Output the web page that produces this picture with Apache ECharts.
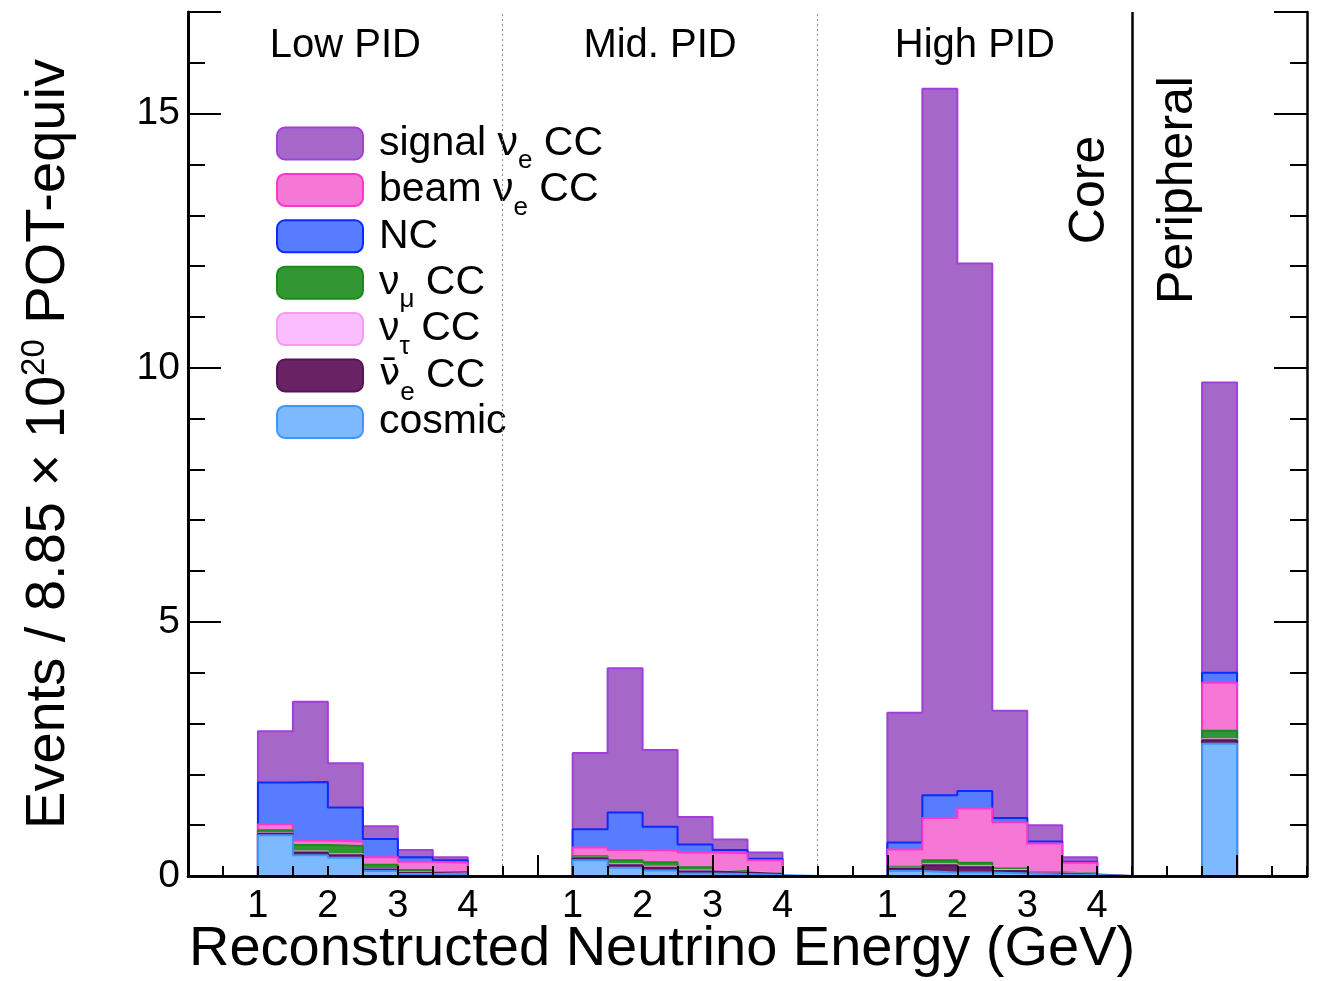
<!DOCTYPE html>
<html>
<head>
<meta charset="utf-8">
<script src="https://cdn.jsdelivr.net/npm/echarts@6/dist/echarts.min.js"></script>
<style>
  html, body { margin: 0; padding: 0; background: #ffffff; }
  #chart { width: 1319px; height: 981px; }
</style>
</head>
<body>
<div id="chart"></div>
<script>
// Reconstructed-energy bins are 0.5 GeV wide. Each PID panel spans 0–4.5 GeV (9 bins)
// and is filled from 1 to 4 GeV; the peripheral sample is a single bin in a 5-bin panel.

// Events per bin (1–1.5, 1.5–2, 2–2.5, 2.5–3, 3–3.5, 3.5–4 GeV), by component
const cosmicLow   = [0.80, 0.41, 0.36, 0.10, 0.04, 0.04];
const cosmicMid   = [0.31, 0.16, 0.11, 0.05, 0.04, 0.02];
const cosmicHigh  = [0.10, 0.07, 0.07, 0.05, 0.03, 0.02];
const cosmicPeri  = [2.60];

const nuebarLow   = [0.03, 0.05, 0.05, 0.03, 0.02, 0.01];
const nuebarMid   = [0.04, 0.05, 0.05, 0.04, 0.03, 0.02];
const nuebarHigh  = [0.05, 0.14, 0.10, 0.05, 0.02, 0.01];
const nuebarPeri  = [0.07];

const nutauLow    = [0.01, 0.02, 0.02, 0.01, 0.01, 0.01];
const nutauMid    = [0.01, 0.02, 0.02, 0.02, 0.01, 0.01];
const nutauHigh   = [0.01, 0.02, 0.02, 0.02, 0.01, 0.01];
const nutauPeri   = [0.02];

const numuLow     = [0.06, 0.13, 0.16, 0.08, 0.05, 0.02];
const numuMid     = [0.03, 0.08, 0.09, 0.06, 0.02, 0.01];
const numuHigh    = [0.02, 0.08, 0.07, 0.03, 0.01, 0.01];
const numuPeri    = [0.17];

const beamLow     = [0.12, 0.09, 0.09, 0.15, 0.16, 0.18];
const beamMid     = [0.17, 0.20, 0.23, 0.29, 0.35, 0.25];
const beamHigh    = [0.34, 0.83, 1.07, 0.91, 0.57, 0.21];
const beamPeri    = [0.94];

const ncLow       = [0.82, 1.15, 0.67, 0.36, 0.09, 0.05];
const ncMid       = [0.36, 0.74, 0.47, 0.16, 0.06, 0.03];
const ncHigh      = [0.14, 0.45, 0.34, 0.08, 0.04, 0.02];
const ncPeri      = [0.20];

const signalLow   = [1.01, 1.58, 0.87, 0.25, 0.14, 0.06];
const signalMid   = [1.50, 2.84, 1.51, 0.54, 0.21, 0.12];
const signalHigh  = [2.55, 13.90, 10.38, 2.11, 0.32, 0.09];
const signalPeri  = [5.71];

// Tick labels at the bin edges (GeV), one entry per edge
const edgeLabels = [
  '', '', '1', '', '2', '', '3', '', '4',
  '', '', '1', '', '2', '', '3', '', '4',
  '', '', '1', '', '2', '', '3', '', '4',
  '', '', '', '', '', ''
];

const panelTitles = ['Low PID', 'Mid. PID', 'High PID'];

const PANEL_BINS = 9;
const PERI_BINS = 5;
const FIRST_FILLED = 2;
const TOTAL_BINS = 3 * PANEL_BINS + PERI_BINS;

// Spread a component's panel arrays onto the full bin row (plus a closing edge).
function layoutBins(low, mid, high, peri) {
  const out = new Array(TOTAL_BINS + 1).fill(0);
  [low, mid, high].forEach(function (arr, p) {
    arr.forEach(function (v, i) { out[p * PANEL_BINS + FIRST_FILLED + i] = v; });
  });
  peri.forEach(function (v, i) { out[3 * PANEL_BINS + FIRST_FILLED + i] = v; });
  return out;
}

const edges = [];
for (let i = 0; i <= TOTAL_BINS; i++) edges.push(String(i));

// Stack order bottom → top
const components = [
  { name: 'cosmic',        fill: '#7db9ff', line: '#3f95ff', data: layoutBins(cosmicLow, cosmicMid, cosmicHigh, cosmicPeri) },
  { name: 'ν̄e CC',        fill: '#692364', line: '#57135a', data: layoutBins(nuebarLow, nuebarMid, nuebarHigh, nuebarPeri) },
  { name: 'ντ CC',         fill: '#fabeff', line: '#f59bf5', data: layoutBins(nutauLow, nutauMid, nutauHigh, nutauPeri) },
  { name: 'νμ CC',         fill: '#329632', line: '#1c8a1c', data: layoutBins(numuLow, numuMid, numuHigh, numuPeri) },
  { name: 'beam νe CC',    fill: '#f578d7', line: '#ff36cc', data: layoutBins(beamLow, beamMid, beamHigh, beamPeri) },
  { name: 'NC',            fill: '#587cff', line: '#0a2aff', data: layoutBins(ncLow, ncMid, ncHigh, ncPeri) },
  { name: 'signal νe CC',  fill: '#a668c8', line: '#a040d8', data: layoutBins(signalLow, signalMid, signalHigh, signalPeri) }
];

const legendOrder = ['signal νe CC', 'beam νe CC', 'NC', 'νμ CC', 'ντ CC', 'ν̄e CC', 'cosmic'];
// Every row carries a subscript-sized token so all rows share one height
const legendRich = {
  'signal νe CC': '{m|signal ν}{s|e}{m| CC}',
  'beam νe CC':   '{m|beam ν}{s|e}{m| CC}',
  'NC':           '{m|NC}{s| }',
  'νμ CC':        '{m|ν}{s|μ}{m| CC}',
  'ντ CC':        '{m|ν}{s|τ}{m| CC}',
  'ν̄e CC':       '{b|ν̄}{s|e}{m| CC}',
  'cosmic':       '{m|cosmic}{s| }'
};

const FONT = '"Liberation Sans", Arial, Helvetica, sans-serif';
const GRID = { left: 188, right: 12, top: 12, bottom: 105 };
const chartW = 1319, chartH = 981;
const binPx = (chartW - GRID.left - GRID.right) / TOTAL_BINS;

const series = components.map(function (c, k) {
  const s = {
    name: c.name,
    type: 'line',
    stack: 'events',
    step: 'end',
    symbol: 'none',
    silent: true,
    z: 10 - k,
    data: c.data,
    lineStyle: { color: c.line, width: 2 },
    itemStyle: { color: c.fill, borderColor: c.line },
    areaStyle: { color: c.fill, opacity: 1 }
  };
  if (k === 0) {
    s.markLine = {
      silent: true,
      symbol: 'none',
      label: { show: false },
      lineStyle: { color: '#8a8a8a', type: [2, 3], width: 1 },
      data: [
        { xAxis: String(PANEL_BINS) },
        { xAxis: String(2 * PANEL_BINS) },
        { xAxis: String(3 * PANEL_BINS), lineStyle: { color: '#000', type: 'solid', width: 2.5 } }
      ]
    };
  }
  return s;
});

const frameLine = { show: true, lineStyle: { color: '#000', width: 2.5 } };
const LEG_FONT = 41;
const LEG_LINE = 58;
const SUB_LINE = 23;

const option = {
  animation: false,
  backgroundColor: '#ffffff',
  textStyle: { fontFamily: FONT },
  grid: Object.assign({ containLabel: false, outerBoundsMode: 'none' }, GRID),
  legend: {
    data: legendOrder.map(function (n) {
      const c = components.find(function (x) { return x.name === n; });
      return { name: n, itemStyle: { color: c.fill, borderColor: c.line, borderWidth: 2 } };
    }),
    orient: 'vertical',
    left: 276,
    top: 113,
    padding: 0,
    itemGap: -14.6,
    itemWidth: 86,
    itemHeight: 32,
    icon: 'roundRect',
    selectedMode: false,
    formatter: function (name) { return legendRich[name]; },
    textStyle: {
      color: '#000',
      fontFamily: FONT,
      padding: [0, 0, 0, 11],
      rich: {
        m: { fontSize: LEG_FONT, lineHeight: LEG_LINE, color: '#000', fontFamily: FONT },
        b: { fontSize: LEG_FONT - 3, lineHeight: LEG_LINE, color: '#000', fontFamily: '"DejaVu Sans", sans-serif' },
        s: { fontSize: 26, lineHeight: SUB_LINE, padding: [LEG_LINE - SUB_LINE, 0, 0, 0], color: '#000', fontFamily: FONT }
      }
    }
  },
  xAxis: [
    {
      type: 'category', data: edges, boundaryGap: false, position: 'bottom', z: 12,
      axisLine: frameLine,
      axisTick: { show: true, inside: true, length: 10, interval: 0, lineStyle: { color: '#000', width: 2 } },
      axisLabel: {
        interval: 0, margin: 12, fontSize: 38, color: '#000', fontFamily: FONT,
        formatter: function (v, i) { return edgeLabels[i]; }
      },
      splitLine: { show: false }
    },
    {
      type: 'category', data: edges, boundaryGap: false, position: 'bottom', z: 12,
      axisLine: { show: false },
      axisTick: { show: true, inside: true, length: 21, lineStyle: { color: '#000', width: 2 },
        interval: function (i) { return i % 5 === 0; } },
      axisLabel: { show: false },
      splitLine: { show: false }
    },
    {
      type: 'category', data: edges, boundaryGap: false, position: 'top', z: 12,
      axisLine: frameLine, axisTick: { show: false }, axisLabel: { show: false }, splitLine: { show: false }
    }
  ],
  yAxis: [
    {
      type: 'value', min: 0, max: 17, interval: 5, position: 'left', z: 12,
      axisLine: { show: true, lineStyle: { color: '#000', width: 3 } },
      axisTick: { show: true, inside: true, length: 33, lineStyle: { color: '#000', width: 2 } },
      axisLabel: {
        margin: 8, fontSize: 39, color: '#000', fontFamily: FONT,
        formatter: function (v) { return v % 5 === 0 ? String(v) : ''; }
      },
      splitLine: { show: false },
      name: '{m|Events / 8.85 × 10}{p|20}{m| POT-equiv}',
      nameLocation: 'middle',
      nameRotate: 90,
      nameGap: 108,
      nameTextStyle: {
        fontFamily: FONT,
        rich: {
          m: { fontSize: 56, lineHeight: 62, color: '#000', fontFamily: FONT },
          p: { fontSize: 33, lineHeight: 33, padding: [0, 0, 29, 0], color: '#000', fontFamily: FONT }
        }
      }
    },
    {
      type: 'value', min: 0, max: 17, interval: 1, position: 'left', z: 12,
      axisLine: { show: false },
      axisTick: { show: true, inside: true, length: 17, lineStyle: { color: '#000', width: 2 } },
      axisLabel: { show: false }, splitLine: { show: false }
    },
    {
      type: 'value', min: 0, max: 17, interval: 5, position: 'right', z: 12,
      axisLine: frameLine,
      axisTick: { show: true, inside: true, length: 33, lineStyle: { color: '#000', width: 2 } },
      axisLabel: { show: false }, splitLine: { show: false }
    },
    {
      type: 'value', min: 0, max: 17, interval: 1, position: 'right', z: 12,
      axisLine: { show: false },
      axisTick: { show: true, inside: true, length: 17, lineStyle: { color: '#000', width: 2 } },
      axisLabel: { show: false }, splitLine: { show: false }
    }
  ],
  graphic: [],
  series: series
};

// Panel captions, sample names and the energy axis title
const graphics = panelTitles.map(function (t, p) {
  return {
    type: 'text', silent: true,
    x: GRID.left + binPx * (p * PANEL_BINS + PANEL_BINS / 2), y: 46,
    style: { text: t, fontSize: 40, fontFamily: FONT, fill: '#000', align: 'center', verticalAlign: 'middle' }
  };
});
graphics.push({
  type: 'text', silent: true, x: 1090, y: 190, rotation: Math.PI / 2,
  style: { text: 'Core', fontSize: 50, fontFamily: FONT, fill: '#000', align: 'center', verticalAlign: 'middle' }
});
graphics.push({
  type: 'text', silent: true, x: 1178, y: 190, rotation: Math.PI / 2,
  style: { text: 'Peripheral', fontSize: 50, fontFamily: FONT, fill: '#000', align: 'center', verticalAlign: 'middle' }
});
graphics.push({
  type: 'text', silent: true, x: 189, y: 950,
  style: { text: 'Reconstructed Neutrino Energy (GeV)', fontSize: 56, fontFamily: FONT, fill: '#000', align: 'left', verticalAlign: 'middle' }
});
option.graphic = graphics;

const chart = echarts.init(document.getElementById('chart'), null, { renderer: 'canvas', width: chartW, height: chartH });
chart.setOption(option);
</script>
</body>
</html>
